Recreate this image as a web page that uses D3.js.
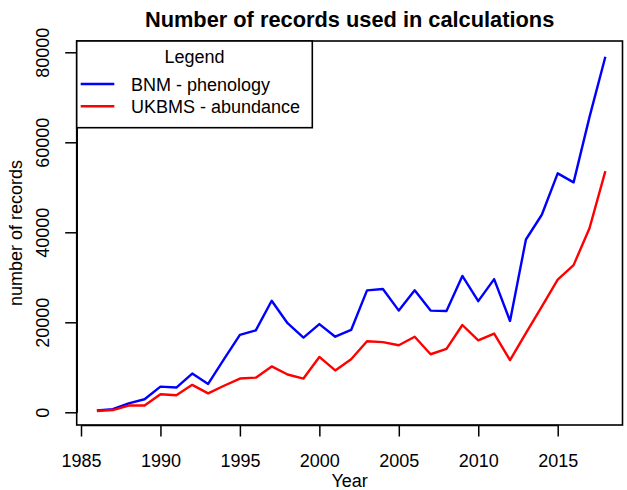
<!DOCTYPE html>
<html>
<head>
<meta charset="utf-8">
<script src="https://cdn.jsdelivr.net/npm/d3@7"></script>
<style>
  html, body { margin: 0; padding: 0; background: #fff; }
  svg { display: block; }
  text { font-family: "Liberation Sans", Arial, sans-serif; fill: #000; }
</style>
</head>
<body>
<svg id="chart" width="627" height="490"></svg>
<script>
// Records per year, 1986-2018
const years = d3.range(1986, 2019);
const bnmPhenology = [400, 700, 2000, 2900, 5700, 5500, 8600, 6300, 11800, 17200, 18200,
  24800, 19800, 16600, 19600, 16800, 18300, 27100, 27400, 22600, 27100, 22600, 22500,
  30300, 24700, 29600, 20300, 38400, 43900, 53100, 51100, 65600, 79000];
const ukbmsAbundance = [300, 500, 1500, 1500, 4000, 3800, 6100, 4200, 5900, 7500, 7700,
  10200, 8400, 7500, 12300, 9300, 11800, 15800, 15600, 14900, 16800, 12900, 14100,
  19400, 16000, 17500, 11600, 17600, 23500, 29500, 32700, 40900, 53600];

const seriesNames = ["BNM - phenology", "UKBMS - abundance"];
const seriesColors = ["#0000ff", "#ff0000"];
const xTicks = [1985, 1990, 1995, 2000, 2005, 2010, 2015];
const yTicks = [0, 20000, 40000, 60000, 80000];

const svg = d3.select("#chart");

// plot region
const box = { left: 76.7, right: 622.5, top: 41, bottom: 425 };

const x = d3.scaleLinear().domain([1985, 2015]).range([81, 557.7]);
const y = d3.scaleLinear().domain([0, 80000]).range([412.3, 52.3]);

// title
svg.append("text")
  .attr("x", (box.left + box.right) / 2)
  .attr("y", 26.5)
  .attr("text-anchor", "middle")
  .style("font-size", "21.8px")
  .style("font-weight", "bold")
  .text("Number of records used in calculations");

// x axis
const xAxis = svg.append("g")
  .attr("transform", `translate(0,${box.bottom})`)
  .call(d3.axisBottom(x).tickValues(xTicks).tickFormat(d3.format("d"))
    .tickSize(11.5).tickSizeOuter(0));
xAxis.select(".domain").attr("stroke", "#000").attr("stroke-width", 1.5);
xAxis.selectAll(".tick line").attr("stroke", "#000").attr("stroke-width", 1.5);
xAxis.selectAll(".tick text")
  .attr("y", 42).attr("dy", 0)
  .style("font-size", "18px")
  .style("font-family", "'Liberation Sans', Arial, sans-serif")
  .attr("fill", "#000");

// y axis with rotated labels
const yAxis = svg.append("g")
  .attr("transform", `translate(${box.left},0)`)
  .call(d3.axisLeft(y).tickValues(yTicks).tickFormat(d3.format("d"))
    .tickSize(11.5).tickSizeOuter(0));
yAxis.select(".domain").attr("stroke", "#000").attr("stroke-width", 1.5);
yAxis.selectAll(".tick line").attr("stroke", "#000").attr("stroke-width", 1.5);
yAxis.selectAll(".tick text")
  .attr("x", 0).attr("y", -27.5).attr("dy", 0)
  .attr("text-anchor", "middle")
  .attr("transform", "rotate(-90)")
  .style("font-size", "18px")
  .style("font-family", "'Liberation Sans', Arial, sans-serif")
  .attr("fill", "#000");

// axis titles
svg.append("text")
  .attr("x", (box.left + box.right) / 2)
  .attr("y", 487)
  .attr("text-anchor", "middle")
  .style("font-size", "18px")
  .text("Year");

svg.append("text")
  .attr("transform", `translate(22,${(box.top + box.bottom) / 2}) rotate(-90)`)
  .attr("text-anchor", "middle")
  .style("font-size", "18px")
  .text("number of records");

// series lines
const line = d3.line()
  .x((d, i) => x(years[i]))
  .y(d => y(d));

[bnmPhenology, ukbmsAbundance].forEach((values, k) => {
  svg.append("path")
    .datum(values)
    .attr("fill", "none")
    .attr("stroke", seriesColors[k])
    .attr("stroke-width", 2.4)
    .attr("stroke-linejoin", "round")
    .attr("d", line);
});

// plot frame
svg.append("rect")
  .attr("x", box.left).attr("y", box.top)
  .attr("width", box.right - box.left).attr("height", box.bottom - box.top)
  .attr("fill", "none").attr("stroke", "#000").attr("stroke-width", 1.6);

// legend
const legend = svg.append("g");
legend.append("rect")
  .attr("x", box.left).attr("y", box.top)
  .attr("width", 312.3 - box.left).attr("height", 127.7 - box.top)
  .attr("fill", "#fff").attr("stroke", "#000").attr("stroke-width", 1.6);
legend.append("text")
  .attr("x", (box.left + 312.3) / 2)
  .attr("y", 63.3)
  .attr("text-anchor", "middle")
  .style("font-size", "18px")
  .text("Legend");
seriesNames.forEach((name, k) => {
  const cy = 84 + k * 22.3;
  legend.append("line")
    .attr("x1", 80.7).attr("x2", 114.3)
    .attr("y1", cy).attr("y2", cy)
    .attr("stroke", seriesColors[k]).attr("stroke-width", 2.4);
  legend.append("text")
    .attr("x", 131)
    .attr("y", cy + 6.8)
    .style("font-size", "18px")
    .text(name);
});
</script>
</body>
</html>
